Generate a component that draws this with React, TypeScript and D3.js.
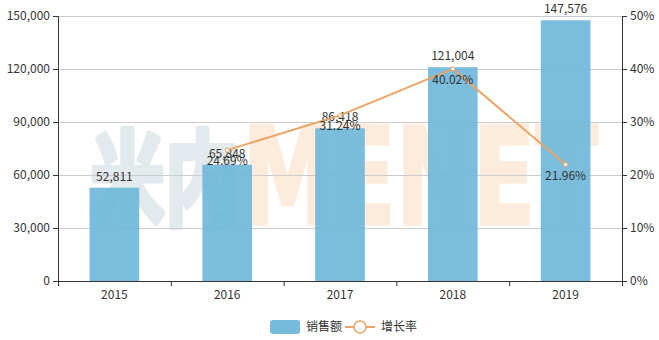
import { useEffect, useRef } from "react";
import * as d3 from "d3";

const years = ["2015", "2016", "2017", "2018", "2019"];
const sales = [52811, 65848, 86418, 121004, 147576];
const growth = [null, 24.69, 31.24, 40.02, 21.96];
const salesTicks = [0, 30000, 60000, 90000, 120000, 150000];
const pctTicks = [0, 10, 20, 30, 40, 50];

const W = 659;
const H = 340;
const FONT = "'Noto Sans CJK SC', 'Noto Sans', sans-serif";

const App = () => {
  const svgRef = useRef<SVGSVGElement>(null);

  useEffect(() => {
    const svg = d3.select(svgRef.current);
    svg.selectAll("*").remove();

    const margin = { top: 16, right: 37, bottom: 59, left: 58 };

    const x = d3.scaleBand()
      .domain(years)
      .range([margin.left, W - margin.right])
      .paddingInner(0.56)
      .paddingOuter(0.28);

    const y = d3.scaleLinear()
      .domain([0, 150000])
      .range([H - margin.bottom, margin.top]);

    const yr = d3.scaleLinear()
      .domain([0, 50])
      .range([H - margin.bottom, margin.top]);

    // watermark
    const wm = svg.append("g").attr("font-weight", "bold");
    wm.append("text").attr("x", 90).attr("y", 218).attr("font-size", 104)
      .attr("font-family", FONT)
      .attr("fill", "#e3eaed").attr("stroke", "#e3eaed").attr("stroke-width", 6)
      .attr("stroke-linejoin", "round")
      .attr("textLength", 150).attr("lengthAdjust", "spacingAndGlyphs").text("米内");
    wm.append("text").attr("x", 242).attr("y", 224).attr("font-size", 136)
      .attr("font-family", "'DejaVu Sans', sans-serif")
      .attr("fill", "#fdebdc").attr("stroke", "#fdebdc").attr("stroke-width", 3)
      .attr("textLength", 356).attr("lengthAdjust", "spacingAndGlyphs").text("MENET");

    // grid
    svg.append("g")
      .selectAll("line")
      .data(salesTicks.slice(1))
      .join("line")
      .attr("x1", margin.left)
      .attr("x2", W - margin.right)
      .attr("y1", d => y(d) + 0.5)
      .attr("y2", d => y(d) + 0.5)
      .attr("stroke", "#cccccc");

    // bars
    svg.append("g")
      .selectAll("rect")
      .data(sales)
      .join("rect")
      .attr("x", (d, i) => x(years[i])!)
      .attr("y", d => y(d))
      .attr("width", x.bandwidth())
      .attr("height", d => y(0) - y(d))
      .attr("fill", "#6fb7d9")
      .attr("opacity", 0.92);

    svg.append("g")
      .selectAll("text")
      .data(sales)
      .join("text")
      .attr("x", (d, i) => x(years[i])! + x.bandwidth() / 2)
      .attr("y", d => y(d) - 7)
      .attr("text-anchor", "middle")
      .attr("font-family", FONT)
      .attr("font-size", 12)
      .attr("fill", "#333")
      .text(d => d3.format(",")(d));

    // axes
    const xAxis = d3.axisBottom(x).tickSize(0).tickPadding(9);
    const gx = svg.append("g")
      .attr("transform", `translate(0,${H - margin.bottom})`)
      .call(xAxis);
    gx.select(".domain").attr("stroke", "#333");
    gx.selectAll("text").attr("font-family", FONT).attr("font-size", 12).attr("fill", "#333");
    const step = x.step();
    gx.selectAll(".bnd")
      .data(d3.range(years.length + 1))
      .join("line")
      .attr("x1", i => margin.left + i * step + 0.5)
      .attr("x2", i => margin.left + i * step + 0.5)
      .attr("y1", 0)
      .attr("y2", 5)
      .attr("stroke", "#333");

    const gy = svg.append("g")
      .attr("transform", `translate(${margin.left},0)`)
      .call(d3.axisLeft(y).tickValues(salesTicks).tickSize(5).tickPadding(3).tickFormat(d3.format(",")));
    gy.selectAll("path, line").attr("stroke", "#333");
    gy.selectAll("text").attr("font-family", FONT).attr("font-size", 12).attr("fill", "#333");

    const gr = svg.append("g")
      .attr("transform", `translate(${W - margin.right},0)`)
      .call(d3.axisRight(yr).tickValues(pctTicks).tickSize(5).tickPadding(3).tickFormat(d => `${d}%`));
    gr.selectAll("path, line").attr("stroke", "#333");
    gr.selectAll("text").attr("font-family", FONT).attr("font-size", 12).attr("fill", "#333");

    // growth line
    const pts = growth
      .map((g, i) => ({ year: years[i], g }))
      .filter(d => d.g !== null) as { year: string; g: number }[];
    const cx = (d: { year: string }) => x(d.year)! + x.bandwidth() / 2;

    svg.append("path")
      .datum(pts)
      .attr("fill", "none")
      .attr("stroke", "#eba567")
      .attr("stroke-width", 2)
      .attr("d", d3.line<{ year: string; g: number }>().x(cx).y(d => yr(d.g)));

    svg.append("g")
      .selectAll("circle")
      .data(pts)
      .join("circle")
      .attr("cx", cx)
      .attr("cy", d => yr(d.g))
      .attr("r", 2)
      .attr("fill", "#fff")
      .attr("stroke", "#eba567")
      .attr("stroke-width", 1);

    svg.append("g")
      .selectAll("text")
      .data(pts)
      .join("text")
      .attr("x", cx)
      .attr("y", d => yr(d.g) + 15)
      .attr("text-anchor", "middle")
      .attr("font-family", FONT)
      .attr("font-size", 12)
      .attr("fill", "#333")
      .text(d => `${d.g.toFixed(2)}%`);

    // legend
    const lg = svg.append("g").attr("font-family", FONT).attr("font-size", 12).attr("fill", "#333");
    lg.append("rect").attr("x", 270).attr("y", 320).attr("width", 30).attr("height", 14)
      .attr("rx", 3).attr("fill", "#76bbdb");
    lg.append("text").attr("x", 306).attr("y", 331).text("销售额");
    lg.append("line").attr("x1", 345).attr("x2", 375).attr("y1", 327).attr("y2", 327)
      .attr("stroke", "#eba567").attr("stroke-width", 2);
    lg.append("circle").attr("cx", 360).attr("cy", 327).attr("r", 6)
      .attr("fill", "#fff").attr("stroke", "#eba567").attr("stroke-width", 1.5);
    lg.append("text").attr("x", 381).attr("y", 331).text("增长率");
  }, []);

  return (
    <svg
      ref={svgRef}
      width={W}
      height={H}
      style={{ position: "absolute", left: 0, top: 0, background: "#fff" }}
    ></svg>
  );
};

export default App;
